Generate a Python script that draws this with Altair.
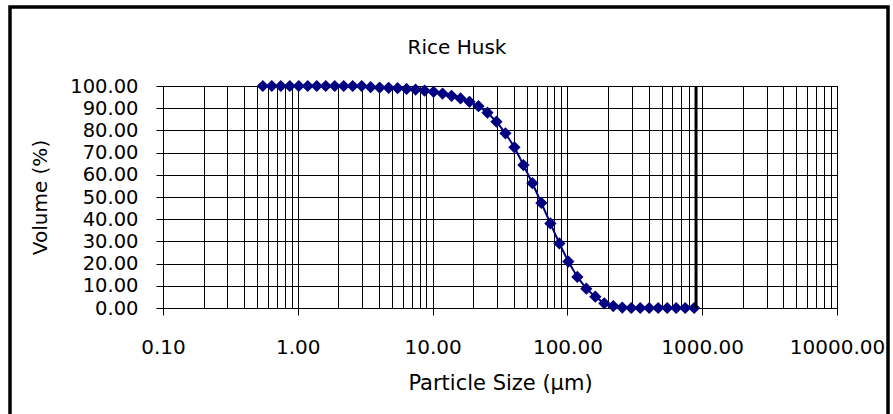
import altair as alt
import pandas as pd

# ---- data ----
particle_size = [0.550, 0.641, 0.748, 0.872, 1.016, 1.185, 1.382, 1.611, 1.878, 2.190,
                 2.553, 2.977, 3.470, 4.046, 4.717, 5.500, 6.412, 7.476, 8.716, 10.16,
                 11.85, 13.82, 16.11, 18.78, 21.90, 25.53, 29.77, 34.70, 40.46, 47.17,
                 55.00, 64.12, 74.76, 87.16, 101.6, 118.5, 138.2, 161.1, 187.8, 219.0,
                 255.3, 297.7, 347.0, 404.6, 471.7, 550.0, 641.2, 747.6, 871.6]
volume = [100.0, 100.0, 100.0, 100.0, 100.0, 100.0, 100.0, 100.0, 100.0, 100.0,
          100.0, 100.0, 99.5, 99.3, 99.2, 99.0, 98.7, 98.4, 97.9, 97.4,
          96.6, 95.6, 94.4, 92.9, 90.9, 88.0, 83.9, 78.7, 72.4, 64.4,
          56.2, 47.3, 38.1, 29.1, 20.9, 14.0, 8.7, 5.1, 2.1, 0.9,
          0.2, 0.0, 0.0, 0.0, 0.0, 0.0, 0.0, 0.0, 0.0]

x_decades = [0.1, 1, 10, 100, 1000, 10000]
x_grid = [0.1, 0.2, 0.3, 0.4, 0.5, 0.6, 0.7, 0.8, 0.9,
          1, 2, 3, 4, 5, 6, 7, 8, 9,
          10, 20, 30, 40, 50, 60, 70, 80, 90,
          100, 200, 300, 400, 500, 600, 700, 800, 900,
          1000, 2000, 3000, 4000, 5000, 6000, 7000, 8000, 9000, 10000]
x_decade_labels = ["0.10", "1.00", "10.00", "100.00", "1000.00", "10000.00"]
y_ticks = [0, 10, 20, 30, 40, 50, 60, 70, 80, 90, 100]
heavy_line_at = [900]

title_text = "Rice Husk"
x_title = "Particle Size (µm)"
y_title = "Volume (%)"

FONT = "DejaVu Sans"
NAVY = "#000080"

df = pd.DataFrame({"size": particle_size, "volume": volume})

label_list = "[" + ",".join("'" + s + "'" for s in x_decade_labels) + "]"
is_decade = "indexof(" + label_list + ", format(datum.value, '.2f')) >= 0"

x_scale = alt.Scale(type="log", domain=[x_decades[0], x_decades[-1]], nice=False)
y_scale = alt.Scale(domain=[0, 100], nice=False, zero=True)

x_axis = alt.Axis(
    values=x_grid,
    format=".2f",
    labelExpr=is_decade + " ? datum.label : ''",
    labelOverlap=False,
    labelFlush=False,
    labelBound=False,
    grid=True,
    gridColor="#000000",
    gridOpacity=1,
    gridWidth=1,
    tickColor="#000000",
    tickSize=7,
    tickOpacity={"condition": {"test": is_decade, "value": 1}, "value": 0},
    domainColor="#000000",
    labelFont=FONT,
    labelFontSize=20,
    labelColor="#000000",
    labelPadding=22,
    titleFont=FONT,
    titleFontSize=21,
    titleFontWeight="normal",
    titleColor="#000000",
    titlePadding=15,
)

y_axis = alt.Axis(
    values=y_ticks,
    format=".2f",
    labelOverlap=False,
    labelSeparation=0,
    labelFlush=False,
    labelBound=False,
    grid=True,
    gridColor="#000000",
    gridOpacity=1,
    gridWidth=1,
    tickColor="#000000",
    tickSize=7,
    domainColor="#000000",
    labelFont=FONT,
    labelFontSize=19.5,
    labelColor="#000000",
    labelPadding=18,
    titleFont=FONT,
    titleFontSize=20,
    titleFontWeight="normal",
    titleColor="#000000",
    titlePadding=19,
)

base = alt.Chart(df).encode(
    x=alt.X("size:Q", scale=x_scale, axis=x_axis, title=x_title),
    y=alt.Y("volume:Q", scale=y_scale, axis=y_axis, title=y_title),
)

line = base.mark_line(color=NAVY, strokeWidth=2)

points = base.mark_point(shape="diamond", filled=True, size=150, color=NAVY, opacity=1)

heavy = alt.Chart(pd.DataFrame({"x": heavy_line_at})).mark_rule(color="#000000", strokeWidth=3).encode(
    x=alt.X("x:Q", scale=x_scale, axis=x_axis, title=x_title),
    y=alt.value(0),
    y2=alt.value(222),
)

one_row = pd.DataFrame({"label": [title_text]})

title_mark = alt.Chart(one_row).mark_text(
    font=FONT, fontSize=20, color="#000000", align="center", baseline="alphabetic"
).encode(
    text="label:N", x=alt.value(294), y=alt.value(-32)
)

frame = alt.Chart(one_row).mark_rect(
    filled=False, stroke="#000000", strokeWidth=3.5
).encode(
    x=alt.value(-153), x2=alt.value(725), y=alt.value(-79), y2=alt.value(360)
)

chart = alt.layer(line, points, heavy, title_mark, frame).properties(
    width=674,
    height=222,
    padding={"left": 163, "top": 86, "right": 56, "bottom": 106},
    autosize=alt.AutoSizeParams(type="none"),
    background="#ffffff",
).configure_view(stroke="#000000", strokeWidth=1).configure_axis(labelOverlap=False)

chart.save("out.html", embed_options={"renderer": "svg", "actions": False})
